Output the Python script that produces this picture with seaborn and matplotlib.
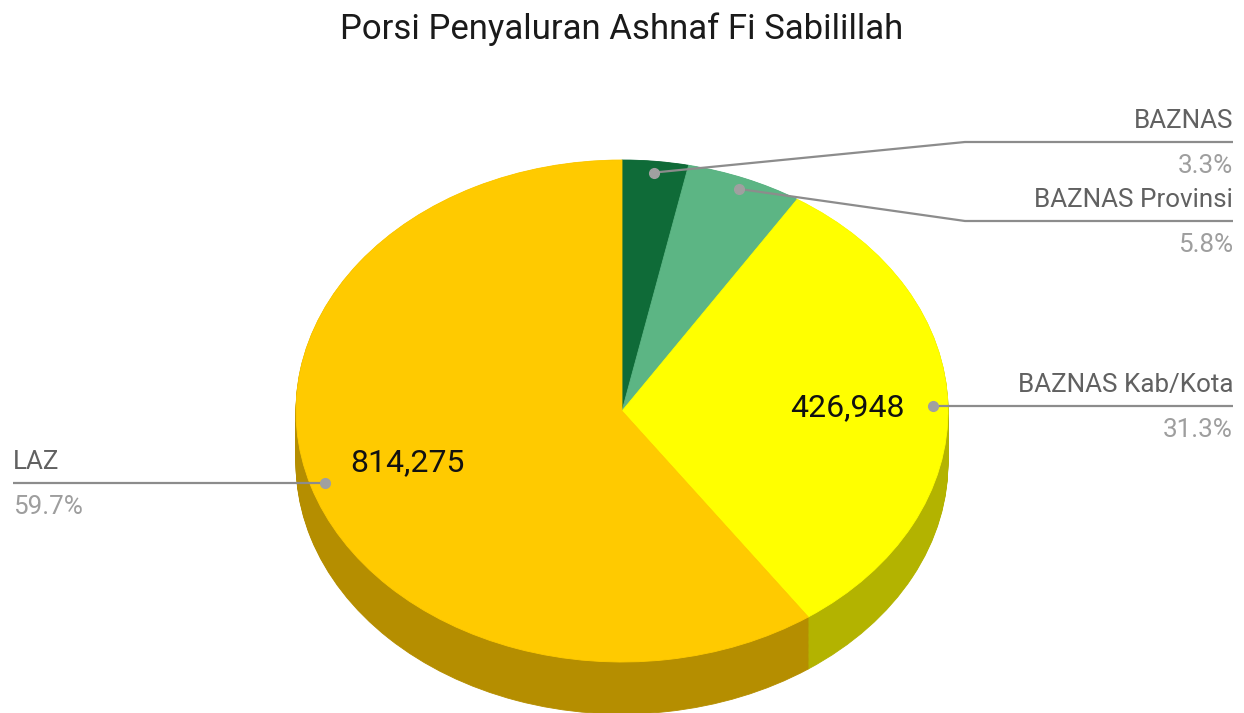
import matplotlib
matplotlib.use("Agg")
import matplotlib.pyplot as plt
import numpy as np
import seaborn as sns

# slices, clockwise from 12 o'clock
labels = ["BAZNAS", "BAZNAS Provinsi", "BAZNAS Kab/Kota", "LAZ"]
values = [44700, 78500, 426948, 814275]
top_colors = ["#0f6b38", "#5cb584", "#ffff00", "#ffca00"]
side_colors = ["#0a4a27", "#3f7e5b", "#b3b300", "#b58e00"]
title = "Porsi Penyaluran Ashnaf Fi Sabilillah"

sns.set_theme(style="white")
plt.rcParams["font.family"] = ["Roboto", "DejaVu Sans"]

# pixel layout of the ellipse
CX, CY, RX, RY = 622, 411, 326, 251
DEPTH = 52 / RY


def px(x, y):
    return (x - CX) / RX, (CY - y) / RY


fig = plt.figure(figsize=(12.44, 7.13), dpi=100)
ax = fig.add_axes([0, 0, 1, 1])

# side wall: stacked darker layers
for d in np.linspace(DEPTH, 0.002, 45):
    wedges, _ = ax.pie(values, colors=side_colors, startangle=90, counterclock=False,
                       center=(0, -d), radius=1, wedgeprops=dict(linewidth=0.6))
    for w in wedges:
        w.set_edgecolor(w.get_facecolor())

wedges, _ = ax.pie(values, colors=top_colors, startangle=90, counterclock=False,
                   center=(0, 0), radius=1, wedgeprops=dict(linewidth=0.6))
for w in wedges:
    w.set_edgecolor(w.get_facecolor())

ax.set_aspect("auto")
ax.set_xlim(px(0, 0)[0], px(1244, 0)[0])
ax.set_ylim(px(0, 713)[1], px(0, 0)[1])
ax.axis("off")

total = sum(values)
shares = [v / total for v in values]
cum = np.cumsum([0] + shares[:-1])
mids = [np.deg2rad(90 - (c + s / 2) * 360) for c, s in zip(cum, shares)]

# value labels inside big slices
for v, s, a in zip(values, shares, mids):
    if s > 0.1:
        ax.text(0.69 * np.cos(a), 0.69 * np.sin(a), f"{v:,}", ha="center", va="center",
                fontsize=23, color="#111111", zorder=10)

# leader lines: (elbow px, line end x px, side)
elbows = [(965, 142), (965, 221), (None, None), (None, None)]
ends_x = [1233, 1233, 1233, 13]
line_c = "#8c8c8c"
for lab, s, a, (ex, ey), endx in zip(labels, shares, mids, elbows, ends_x):
    ax_, ay_ = 0.955 * np.cos(a), 0.955 * np.sin(a)
    if ex is None:
        pts = [(ax_, ay_), (px(endx, 0)[0], ay_)]
        ly = ay_
    else:
        e = px(ex, ey)
        pts = [(ax_, ay_), e, (px(endx, 0)[0], e[1])]
        ly = e[1]
    xs, ys = zip(*pts)
    ax.plot(xs, ys, color=line_c, lw=1.6, zorder=11, solid_capstyle="butt")
    ax.plot([ax_], [ay_], "o", color="#a0a0a0", ms=7, zorder=12)
    tx = px(endx, 0)[0]
    ha = "right" if endx > CX else "left"
    ax.text(tx, ly + 9 / RY, lab, ha=ha, va="bottom", fontsize=18.7, color="#616161", zorder=12)
    ax.text(tx, ly - 12 / RY, f"{s * 100:.1f}%", ha=ha, va="top", fontsize=18.7,
            color="#9e9e9e", zorder=12)

fig.text(0.5, 1 - 29 / 713, title, ha="center", va="center", fontsize=25, color="#1a1a1a")

fig.savefig("out.png", dpi=100, facecolor="white")
